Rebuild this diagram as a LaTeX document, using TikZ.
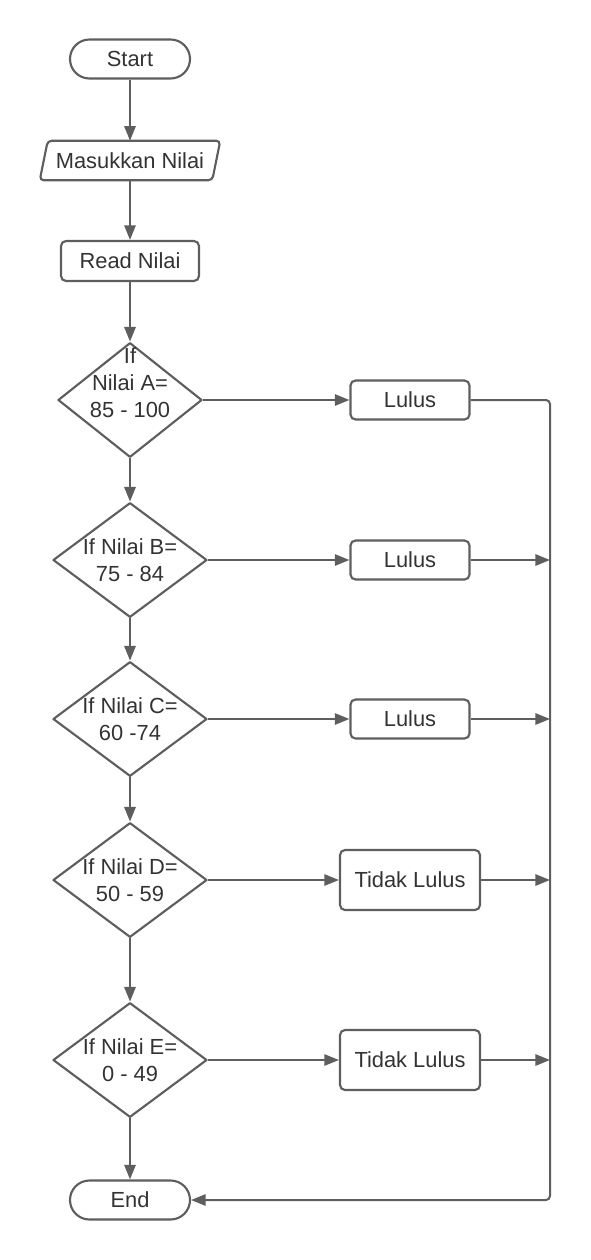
\documentclass[tikz,border=0pt]{standalone}
\usepackage{fontspec}
\setmainfont{Liberation Sans}
\usetikzlibrary{arrows.meta,shapes.geometric}
\definecolor{linegray}{HTML}{5E5E5E}
\definecolor{textgray}{HTML}{333333}
\begin{document}
\begin{tikzpicture}[x=0.75pt,y=-0.75pt,
    every node/.style={font=\fontsize{16.4}{20.25}\selectfont, text=textgray, inner sep=0pt},
    shapeline/.style={draw=linegray, line width=1.6pt},
    terminal/.style={shapeline, rounded corners=14.6pt, minimum width=90pt, minimum height=29.25pt},
    io/.style={minimum width=129pt, minimum height=29.25pt},
    process/.style={shapeline, rounded corners=3.75pt},
    decision/.style={diamond, shapeline, line join=round, minimum width=115.5pt, minimum height=86pt},
    dtext/.style={align=center},
    arr/.style={draw=linegray, line width=1.5pt, -{Triangle[length=11pt,width=8.5pt]}}]
  \useasboundingbox (0,0) rectangle (590,1260);
  \node[terminal] (start) at (130,59) {Start};
  \node[io] (input) at (130,160.5) {Masukkan Nilai};
  \draw[shapeline, rounded corners=3pt] ([xshift=-3pt]input.south west) -- ([xshift=3pt]input.north west)
    -- ([xshift=3pt]input.north east) -- ([xshift=-3pt]input.south east) -- cycle;
  \node[process, minimum width=103.5pt, minimum height=30pt] (read) at (130,261) {Read Nilai};
  \node[decision, minimum width=108pt, label={[dtext,yshift=12.75pt]center:{If\\Nilai A=\\85 - 100}}] (dA) at (130,400) {};
  \node[decision, label={[dtext]center:{If Nilai B=\\75 - 84}}] (dB) at (130,560) {};
  \node[decision, label={[dtext]center:{If Nilai C=\\60 -74}}] (dC) at (130,719) {};
  \node[decision, label={[dtext]center:{If Nilai D=\\50 - 59}}] (dD) at (130,880) {};
  \node[decision, label={[dtext]center:{If Nilai E=\\0 - 49}}] (dE) at (130,1060) {};
  \node[terminal] (stop) at (130,1200) {End};
  \node[process, minimum width=89.25pt, minimum height=29.25pt] (lA) at (410,400) {Lulus};
  \node[process, minimum width=89.25pt, minimum height=29.25pt] (lB) at (410,560) {Lulus};
  \node[process, minimum width=89.25pt, minimum height=29.25pt] (lC) at (410,719) {Lulus};
  \node[process, minimum width=105pt, minimum height=45pt] (tD) at (410,880) {Tidak Lulus};
  \node[process, minimum width=105pt, minimum height=45pt] (tE) at (410,1060) {Tidak Lulus};
  \coordinate (busTop) at (550,400);
  \coordinate (busEnd) at (550,1200);
  \draw[arr] (start) -- (input);
  \draw[arr] (input) -- (read);
  \draw[arr] (read) -- (dA);
  \draw[arr] (dA) -- (dB);
  \draw[arr] (dB) -- (dC);
  \draw[arr] (dC) -- (dD);
  \draw[arr] (dD) -- (dE);
  \draw[arr] (dE) -- (stop);
  \draw[arr] (dA) -- (lA);
  \draw[arr] (dB) -- (lB);
  \draw[arr] (dC) -- (lC);
  \draw[arr] (dD) -- (tD);
  \draw[arr] (dE) -- (tE);
  \draw[arr, rounded corners=3pt] (lA.east) -- (busTop) -- (busEnd) -- (stop.east);
  \draw[arr] (lB) -- (lB -| busTop);
  \draw[arr] (lC) -- (lC -| busTop);
  \draw[arr] (tD) -- (tD -| busTop);
  \draw[arr] (tE) -- (tE -| busTop);
\end{tikzpicture}
\end{document}
